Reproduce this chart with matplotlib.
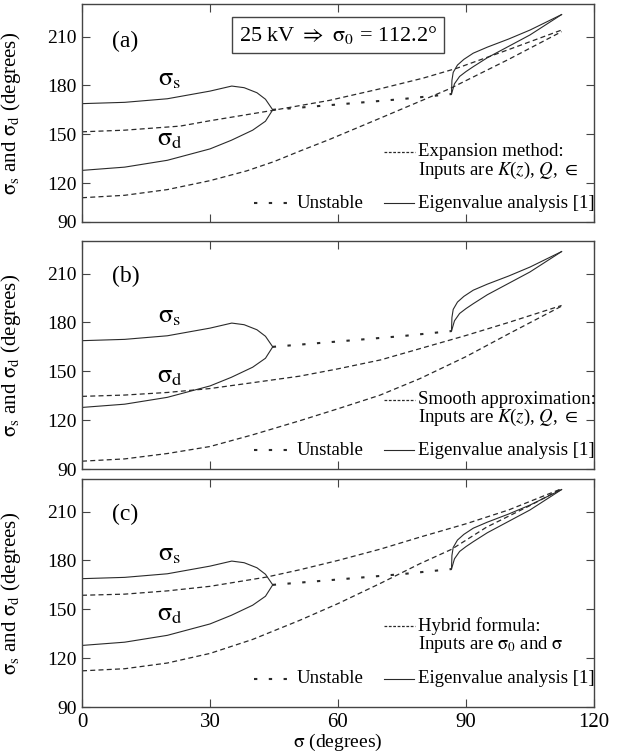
import matplotlib
matplotlib.use("Agg")
import matplotlib.pyplot as plt

plt.rcParams['font.family'] = ['Liberation Serif', 'DejaVu Serif']
plt.rcParams['mathtext.fontset'] = 'stix'

# Eigenvalue analysis [1] (solid, same in every panel)
sig_s_x = [0, 10, 20, 30, 35.1, 38, 41, 43, 44.7]
sig_s_y = [168.8, 169.6, 171.8, 176.5, 179.6, 178.6, 175.5, 171.5, 165]
sig_d_x = [0, 10, 20, 30, 35, 40, 43, 44.7]
sig_d_y = [127.8, 129.8, 134, 141, 146.3, 152.5, 158, 165]
unst_x = [44.7, 60, 75, 86.6]
unst_y = [165, 168.3, 171.6, 174.7]
upper_x = [86.6, 86.7, 87.0, 88.0, 89.5, 91.7, 95, 100, 105, 112.4]
upper_y = [174.7, 183, 188, 192.5, 196, 199.8, 203.5, 208.5, 214, 223.5]
lower_x = [86.6, 87.3, 88.5, 90, 91.7, 95, 100, 105, 112.4]
lower_y = [174.7, 181, 185.5, 188.5, 191.5, 197, 204, 211, 223.5]

# (a) expansion method
a_up_x = [0, 10, 23, 30, 44.8, 58, 70, 80, 87.8, 100, 112.4]
a_up_y = [151.5, 152.5, 155, 158.3, 164.7, 170.8, 178, 184.5, 190.5, 202, 214]
a_lo_x = [0, 10, 20, 30, 38.6, 45, 51, 58, 70, 86.2, 100, 112.4]
a_lo_y = [111, 112.5, 116, 121.5, 127.5, 133.2, 139.6, 146.8, 160, 178, 196, 213]

# (b) smooth approximation
b_up_x = [0, 10, 20, 30, 40, 51, 60, 70, 79.2, 90, 100, 112.4]
b_up_y = [134.6, 135.4, 137, 139.4, 143, 147, 151.5, 157, 163.9, 172, 180, 190.4]
b_lo_x = [0, 10, 20, 30, 40, 51, 60, 69.8, 79.2, 90, 100, 112.4]
b_lo_y = [94.8, 96.2, 99.5, 103.8, 111, 119.6, 127, 135.3, 145.5, 159, 173, 190]

# (c) hybrid formula
c_up_x = [0, 10, 20, 30, 43.3, 51.1, 60, 70, 79.2, 90, 100, 112.4]
c_up_y = [158.6, 159.3, 161.3, 164.1, 169.8, 174.3, 180, 187, 194.3, 202.5, 211, 224]
c_lo_x = [0, 10, 20, 30, 40, 51.1, 60, 70, 79.2, 86.6, 94.8, 105, 112.4]
c_lo_y = [112.2, 113.5, 117, 122.9, 131.5, 143.3, 153.5, 166, 178, 186.8, 200.4, 213.7, 224]

yticks = [90, 120, 150, 180, 210]
xticks = [0, 30, 60, 90, 120]

panels = [
    dict(label="(a)", up=(a_up_x, a_up_y), lo=(a_lo_x, a_lo_y),
         legend=["Expansion method:", "Inputs are $K$($z$), $Q$, $\\in$"],
         rect=[82 / 618, 1 - 222 / 752, 512 / 618, 218 / 752], ybot=96.1,
         ly=(0.322, 0.238, 0.086)),
    dict(label="(b)", up=(b_up_x, b_up_y), lo=(b_lo_x, b_lo_y),
         legend=["Smooth approximation:", "Inputs are $K$($z$), $Q$, $\\in$"],
         rect=[82 / 618, 1 - 469 / 752, 512 / 618, 228 / 752], ybot=90,
         ly=(0.303, 0.226, 0.082)),
    dict(label="(c)", up=(c_up_x, c_up_y), lo=(c_lo_x, c_lo_y),
         legend=["Hybrid formula:", "Inputs are $\\mathrm{\\sigma_0}$ and $\\mathrm{\\sigma}$"],
         rect=[82 / 618, 1 - 707 / 752, 512 / 618, 228 / 752], ybot=90,
         ly=(0.357, 0.275, 0.125)),
]

lc = "#2a2a2a"
dash = (0, (4.0, 2.6))
dots = (0, (1.6, 5.5))

fig = plt.figure(figsize=(6.18, 7.52), dpi=100)

for i, p in enumerate(panels):
    ax = fig.add_axes(p["rect"])
    ax.plot(sig_s_x, sig_s_y, color=lc, lw=0.8)
    ax.plot(sig_d_x, sig_d_y, color=lc, lw=0.8)
    ax.plot(upper_x, upper_y, color=lc, lw=0.8)
    ax.plot(lower_x, lower_y, color=lc, lw=0.8)
    ax.plot(unst_x, unst_y, color=lc, lw=1.5, linestyle=dots)
    ax.plot(*p["up"], color=lc, lw=0.9, linestyle=dash)
    ax.plot(*p["lo"], color=lc, lw=0.9, linestyle=dash)

    ax.set_xlim(0, 120)
    ax.set_ylim(p["ybot"], 230)
    ax.set_xticks(xticks)
    yt = [p["ybot"]] + yticks[1:]
    ax.set_yticks(yt)
    ax.set_yticklabels([str(v) for v in yticks], fontsize=14)
    ax.tick_params(direction="in", length=5.5, width=0.8, color="#444444",
                   top=True, right=True, pad=4)
    if i < 2:
        ax.set_xticklabels([])
    else:
        ax.set_xticklabels([str(v) for v in xticks], fontsize=15)
        ax.set_xlabel("$\\mathrm{\\sigma}$ (degrees)", fontsize=14, labelpad=0)
    for s in ax.spines.values():
        s.set_color("#444444")
        s.set_linewidth(1.0)

    ax.set_ylabel("$\\mathrm{\\sigma_s}$ and $\\mathrm{\\sigma_d}$ (degrees)", fontsize=15)
    ax.yaxis.set_label_coords(-0.115, 0.5)

    ax.text(0.058, 0.83 if i == 0 else 0.845, p["label"], transform=ax.transAxes,
            fontsize=17, va="center", ha="left")
    ax.text(20.5, 176.5, "$\\mathrm{\\sigma_s}$", fontsize=19, ha="center", va="bottom")
    ax.text(20.5, 140, "$\\mathrm{\\sigma_d}$", fontsize=19, ha="center", va="bottom")

    # legend entries
    l1, l2, l3 = p["ly"]
    ax.plot([0.589, 0.651], [l1, l1], transform=ax.transAxes, color=lc, lw=0.9,
            linestyle=(0, (2.2, 1.3)))
    ax.text(0.657, l1, p["legend"][0], transform=ax.transAxes, fontsize=13.5, va="center")
    ax.text(0.657, l2, p["legend"][1], transform=ax.transAxes, fontsize=13.5, va="center")
    ax.plot([0.335, 0.41], [l3, l3], transform=ax.transAxes, color=lc, lw=1.5, linestyle=dots)
    ax.text(0.42, l3, "Unstable", transform=ax.transAxes, fontsize=13.5, va="center")
    ax.plot([0.589, 0.648], [l3, l3], transform=ax.transAxes, color=lc, lw=0.8)
    ax.text(0.657, l3, "Eigenvalue analysis [1]", transform=ax.transAxes, fontsize=13.5, va="center")

    if i == 0:
        ax.text(0.5, 0.858, "25 kV $\\Rightarrow$ $\\mathrm{\\sigma_0}$ = 112.2°",
                transform=ax.transAxes, fontsize=16, ha="center", va="center",
                bbox=dict(boxstyle="square,pad=0.3", fc="white", ec="#444444", lw=1.0))

fig.savefig("out.png", dpi=100)
